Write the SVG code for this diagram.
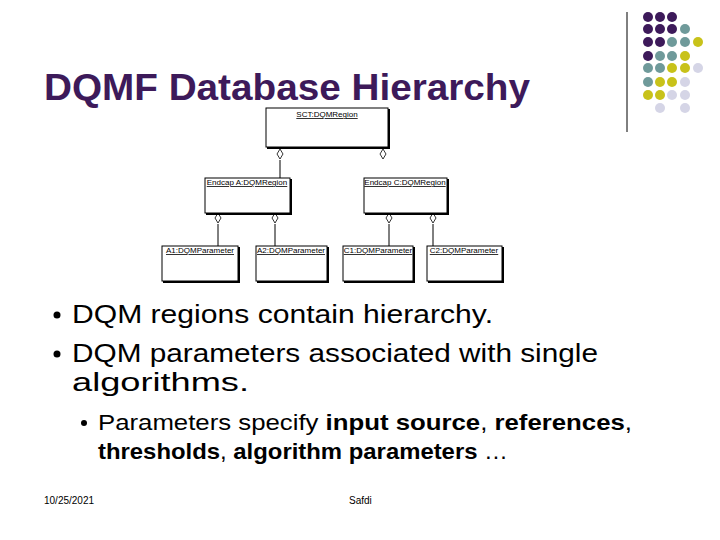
<svg xmlns="http://www.w3.org/2000/svg" width="720" height="540" viewBox="0 0 720 540">
<style>
.p{fill:#3d1a5a}.t{fill:#6f9a9a}.y{fill:#c8c21a}.l{fill:#d5d5e6}
.box{fill:#fff;stroke:#000;stroke-width:1}
.sh{fill:none;stroke:#000;stroke-width:2}
.bl{font-family:"Liberation Sans",Arial,sans-serif;font-size:8px;text-decoration:underline}
.cn{stroke:#000;stroke-width:1;fill:none}
.dm{fill:#fff;stroke:#000;stroke-width:0.8}
.tx{font-family:"Liberation Sans",Arial,sans-serif;fill:#000}
</style>
<rect width="720" height="540" fill="#fff"/>
<g id="deco">
<line x1="627" y1="12" x2="627" y2="132" stroke="#000" stroke-width="1"/>
<circle class="p" cx="648" cy="17" r="5"/><circle class="p" cx="660" cy="17" r="5"/><circle class="p" cx="672" cy="17" r="5"/>
<circle class="p" cx="648" cy="29" r="5"/><circle class="p" cx="660" cy="29" r="5"/><circle class="p" cx="672" cy="29" r="5"/><circle class="t" cx="685" cy="29" r="5"/>
<circle class="p" cx="648" cy="42" r="5"/><circle class="p" cx="660" cy="42" r="5"/><circle class="t" cx="672" cy="42" r="5"/><circle class="t" cx="685" cy="42" r="5"/><circle class="y" cx="698" cy="42" r="5"/>
<circle class="p" cx="648" cy="56" r="5"/><circle class="t" cx="660" cy="56" r="5"/><circle class="t" cx="672" cy="56" r="5"/><circle class="y" cx="685" cy="56" r="5"/>
<circle class="t" cx="648" cy="68" r="5"/><circle class="t" cx="660" cy="68" r="5"/><circle class="y" cx="672" cy="68" r="5"/><circle class="y" cx="685" cy="68" r="5"/><circle class="l" cx="698" cy="68" r="5"/>
<circle class="t" cx="648" cy="82" r="5"/><circle class="y" cx="660" cy="82" r="5"/><circle class="y" cx="672" cy="82" r="5"/><circle class="l" cx="685" cy="82" r="5"/>
<circle class="y" cx="648" cy="95" r="5"/><circle class="y" cx="660" cy="95" r="5"/><circle class="l" cx="672" cy="95" r="5"/><circle class="l" cx="685" cy="95" r="5"/>
<circle class="l" cx="660" cy="108" r="5"/><circle class="l" cx="685" cy="108" r="5"/>
</g>
<text x="44" y="100" class="tx" font-size="36" font-weight="bold" textLength="486" lengthAdjust="spacingAndGlyphs" style="fill:#3d1a5a">DQMF Database Hierarchy</text>
<g id="connectors">
<line class="cn" x1="280" y1="160" x2="280" y2="178"/>
<polygon class="dm" points="280,149 283,154 280,159 277,154"/>
<polygon class="dm" points="383,149 386,154 383,159 380,154"/>
<line class="cn" x1="218" y1="224" x2="218" y2="246"/>
<line class="cn" x1="275" y1="224" x2="275" y2="246"/>
<line class="cn" x1="389" y1="224" x2="389" y2="246" stroke="#777"/>
<line class="cn" x1="433" y1="224" x2="433" y2="246"/>
<polygon class="dm" points="218,213 221,218 218,223 215,218"/>
<polygon class="dm" points="275,213 278,218 275,223 272,218"/>
<polygon class="dm" points="389,213 392,218 389,223 386,218"/>
<polygon class="dm" points="433,213 436,218 433,223 430,218"/>
</g>
<g id="sct"><rect class="box" x="266" y="108" width="122" height="39"/><polyline class="sh" points="389,109 389,148 267,148"/><text class="bl" x="327" y="117" text-anchor="middle">SCT:DQMRegion</text></g>
<g id="endcapA"><rect class="box" x="205" y="178" width="85" height="35"/><polyline class="sh" points="291,179 291,214 206,214"/><text class="bl" x="247" y="185" text-anchor="middle">Endcap A:DQMRegion</text></g>
<g id="endcapC"><rect class="box" x="364" y="178" width="83" height="35"/><polyline class="sh" points="448,179 448,214 365,214"/><text class="bl" x="405" y="185" text-anchor="middle">Endcap C:DQMRegion</text></g>
<g id="a1"><rect class="box" x="162" y="246" width="76" height="35"/><polyline class="sh" points="239,247 239,282 163,282"/><text class="bl" x="200" y="253" text-anchor="middle">A1:DQMParameter</text></g>
<g id="a2"><rect class="box" x="256" y="246" width="71" height="35"/><polyline class="sh" points="328,247 328,282 257,282"/><text class="bl" x="291" y="253" text-anchor="middle">A2:DQMParameter</text></g>
<g id="c1"><rect class="box" x="343" y="246" width="70" height="35"/><polyline class="sh" points="414,247 414,282 344,282"/><text class="bl" x="378" y="253" text-anchor="middle">C1:DQMParameter</text></g>
<g id="c2"><rect class="box" x="427" y="246" width="75" height="35"/><polyline class="sh" points="503,247 503,282 428,282"/><text class="bl" x="464" y="253" text-anchor="middle">C2:DQMParameter</text></g>
<g id="text" class="tx">
<circle cx="57" cy="315" r="3.5"/><circle cx="57" cy="354" r="3.5"/>
<text x="72" y="323" font-size="26" textLength="421" lengthAdjust="spacingAndGlyphs">DQM regions contain hierarchy.</text>
<text x="72" y="362" font-size="26" textLength="526" lengthAdjust="spacingAndGlyphs">DQM parameters associated with single</text>
<text x="72" y="391" font-size="26" textLength="177" lengthAdjust="spacingAndGlyphs">algorithms.</text>
<circle cx="84" cy="423" r="3"/>
<text x="98" y="430" font-size="22" textLength="534" lengthAdjust="spacingAndGlyphs">Parameters specify <tspan font-weight="bold">input source</tspan>, <tspan font-weight="bold">references</tspan>,</text>
<text x="98" y="459" font-size="22" textLength="410" lengthAdjust="spacingAndGlyphs"><tspan font-weight="bold">thresholds</tspan>, <tspan font-weight="bold">algorithm parameters</tspan> …</text>
<text x="44" y="504" font-size="10">10/25/2021</text>
<text x="349" y="504" font-size="10">Safdi</text>
</g>
</svg>
